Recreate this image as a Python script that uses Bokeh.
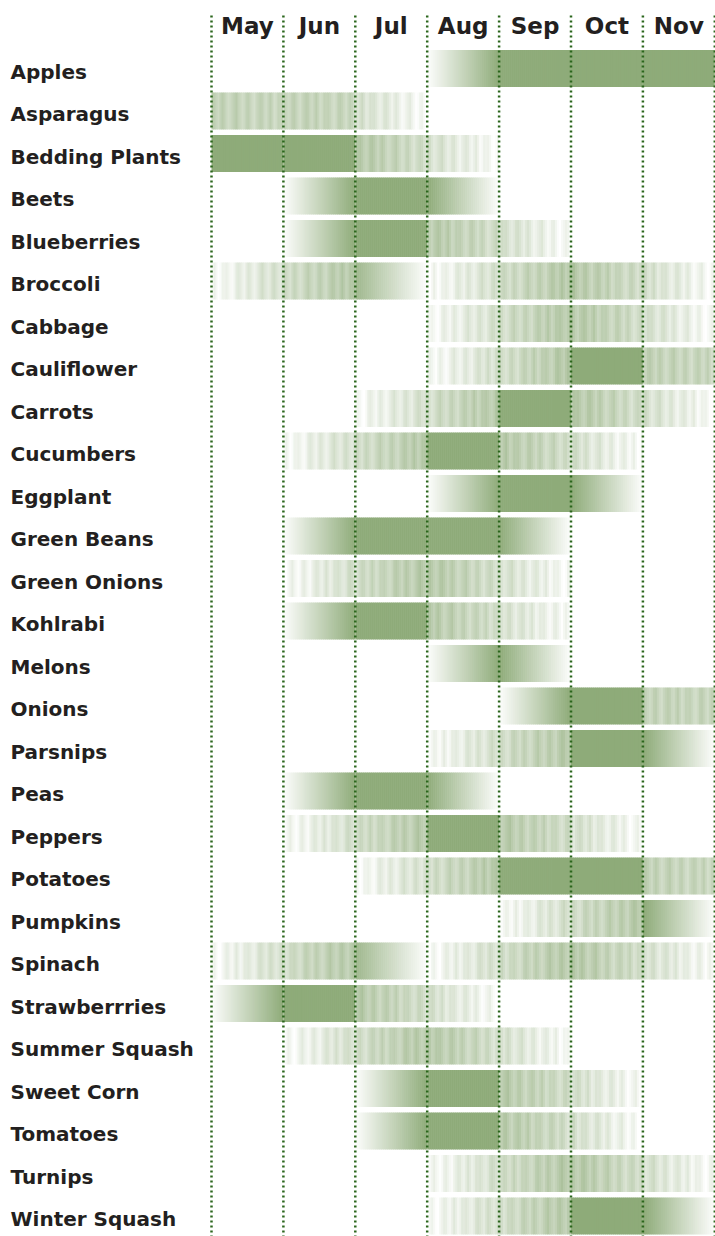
from bokeh.plotting import figure
from bokeh.models import Range1d, ColumnDataSource
from bokeh.embed import file_html
from bokeh.resources import INLINE
from bokeh.core.properties import value

# ---------------- data ----------------
crops = ["Apples", "Asparagus", "Bedding Plants", "Beets", "Blueberries", "Broccoli",
         "Cabbage", "Cauliflower", "Carrots", "Cucumbers", "Eggplant", "Green Beans",
         "Green Onions", "Kohlrabi", "Melons", "Onions", "Parsnips", "Peas", "Peppers",
         "Potatoes", "Pumpkins", "Spinach", "Strawberrries", "Summer Squash",
         "Sweet Corn", "Tomatoes", "Turnips", "Winter Squash"]
months = ["May", "Jun", "Jul", "Aug", "Sep", "Oct", "Nov"]

# availability code per crop for each month
# F full season, U coming in, D / E going out,
# a/b/c/d/m partial availability (early, rising, falling, late, steady)
may = ["", "m", "F", "", "", "a", "", "", "", "", "", "", "", "", "", "", "", "", "", "", "", "a", "U", "", "", "", "", ""]
jun = ["", "m", "F", "U", "U", "b", "", "", "", "a", "", "U", "a", "U", "", "", "", "U", "a", "", "", "b", "F", "a", "", "", "", ""]
jul = ["", "d", "c", "F", "F", "E", "", "", "a", "b", "", "F", "b", "F", "", "", "", "F", "b", "a", "", "E", "c", "b", "U", "U", "", ""]
aug = ["U", "", "d", "D", "c", "a", "a", "a", "b", "F", "U", "F", "c", "c", "U", "", "a", "D", "F", "b", "", "a", "d", "c", "F", "F", "a", "a"]
sep = ["F", "", "", "", "d", "b", "b", "b", "F", "c", "F", "D", "d", "d", "D", "U", "b", "", "c", "F", "a", "b", "", "d", "c", "c", "b", "b"]
oct_ = ["F", "", "", "", "", "c", "c", "F", "c", "d", "D", "", "", "", "", "F", "F", "", "d", "F", "b", "c", "", "", "d", "d", "c", "F"]
nov = ["F", "", "", "", "", "d", "d", "m", "d", "", "", "", "", "", "", "m", "D", "", "", "m", "D", "d", "", "", "", "", "d", "D"]
month_codes = [may, jun, jul, aug, sep, oct_, nov]

# ---------------- style ----------------
GREEN = (142, 171, 121)
# (start level, end level, textured)
LEVELS = {"F": (1.0, 1.0, False), "U": (0.02, 1.0, False), "D": (1.0, 0.02, False),
          "E": (0.85, 0.02, False),
          "a": (0.04, 0.38, True), "b": (0.38, 0.64, True), "c": (0.64, 0.38, True),
          "d": (0.38, 0.04, True), "m": (0.52, 0.46, True)}
STRIPE = [0.3, 0.5, 0.1, -0.4, -0.6, -0.2, 0.6, 0.8, 0.4, -0.1, -0.5, 0.2, 0.7, 0.3,
          -0.3, -0.7, -0.4, 0.1, 0.5, 0.9, 0.2, -0.2, -0.6, -0.3, 0.4, 0.6, 0.0, -0.5,
          -0.8, -0.1, 0.3, 0.7, 0.5, -0.2, -0.4, 0.2, 0.8, 0.1, -0.6, -0.3, 0.4]
NSLICE = 36
BAR_H = 0.87
W, H = 715, 1236
ROW_PX = 42.5
TOP_PX = 68.0
COL_PX = 71.9
X0 = (0 - 211) / COL_PX
X1 = (W - 211) / COL_PX
Y_TOP = -TOP_PX / ROW_PX
Y_BOT = (H - TOP_PX) / ROW_PX


def mix(level):
    level = max(0.0, min(1.0, level))
    r, g, b = (int(round(255 + (c - 255) * level)) for c in GREEN)
    return "#%02x%02x%02x" % (r, g, b)


left, right, top, bottom, colors = [], [], [], [], []
for mi, codes in enumerate(month_codes):
    for ri, code in enumerate(codes):
        if not code:
            continue
        a, b, tex = LEVELS[code]
        step = 1.0 / NSLICE
        for j in range(NSLICE):
            t = (j + 0.5) / NSLICE
            lv = a + (b - a) * t
            if tex:
                s = STRIPE[(j + 7 * ri + 13 * mi) % len(STRIPE)]
                lv = lv + 0.14 * s
            l = mi + j * step
            r = mi + 1.0 if j == NSLICE - 1 else l + step * 1.3
            left.append(l)
            right.append(r)
            top.append(ri - BAR_H / 2)
            bottom.append(ri + BAR_H / 2)
            colors.append(mix(lv))

src = ColumnDataSource(dict(left=left, right=right, top=top, bottom=bottom, color=colors))

p = figure(width=W, height=H, output_backend="svg", toolbar_location=None,
           x_range=Range1d(X0, X1), y_range=Range1d(Y_BOT, Y_TOP),
           min_border=0, outline_line_color=None)
p.axis.visible = False
p.grid.visible = False
p.background_fill_color = "white"

p.quad(left="left", right="right", top="top", bottom="bottom", fill_color="color",
       line_color=None, source=src)

# dotted month separators
gx = list(range(len(months) + 1))
p.segment(x0=gx, x1=gx, y0=[(15 - TOP_PX) / ROW_PX] * len(gx), y1=[Y_BOT] * len(gx),
          line_color="#2b661c", line_width=2.5, line_dash="2 3")

# month headers
p.text(x=[i + 0.5 for i in range(len(months))], y=[(25.5 - TOP_PX) / ROW_PX] * len(months),
       text=months, text_font=value("DejaVu Sans"), text_font_style="bold",
       text_font_size="23px", text_color="#231f20", text_align="center",
       text_baseline="middle")

# crop labels
p.text(x=[X0 + 10 / COL_PX] * len(crops), y=[i + 3.3 / ROW_PX for i in range(len(crops))],
       text=crops, text_font=value("DejaVu Sans"), text_font_style="bold",
       text_font_size="20px", text_color="#231f20", text_align="left",
       text_baseline="middle")

open("out.html", "w").write(file_html(p, INLINE))
